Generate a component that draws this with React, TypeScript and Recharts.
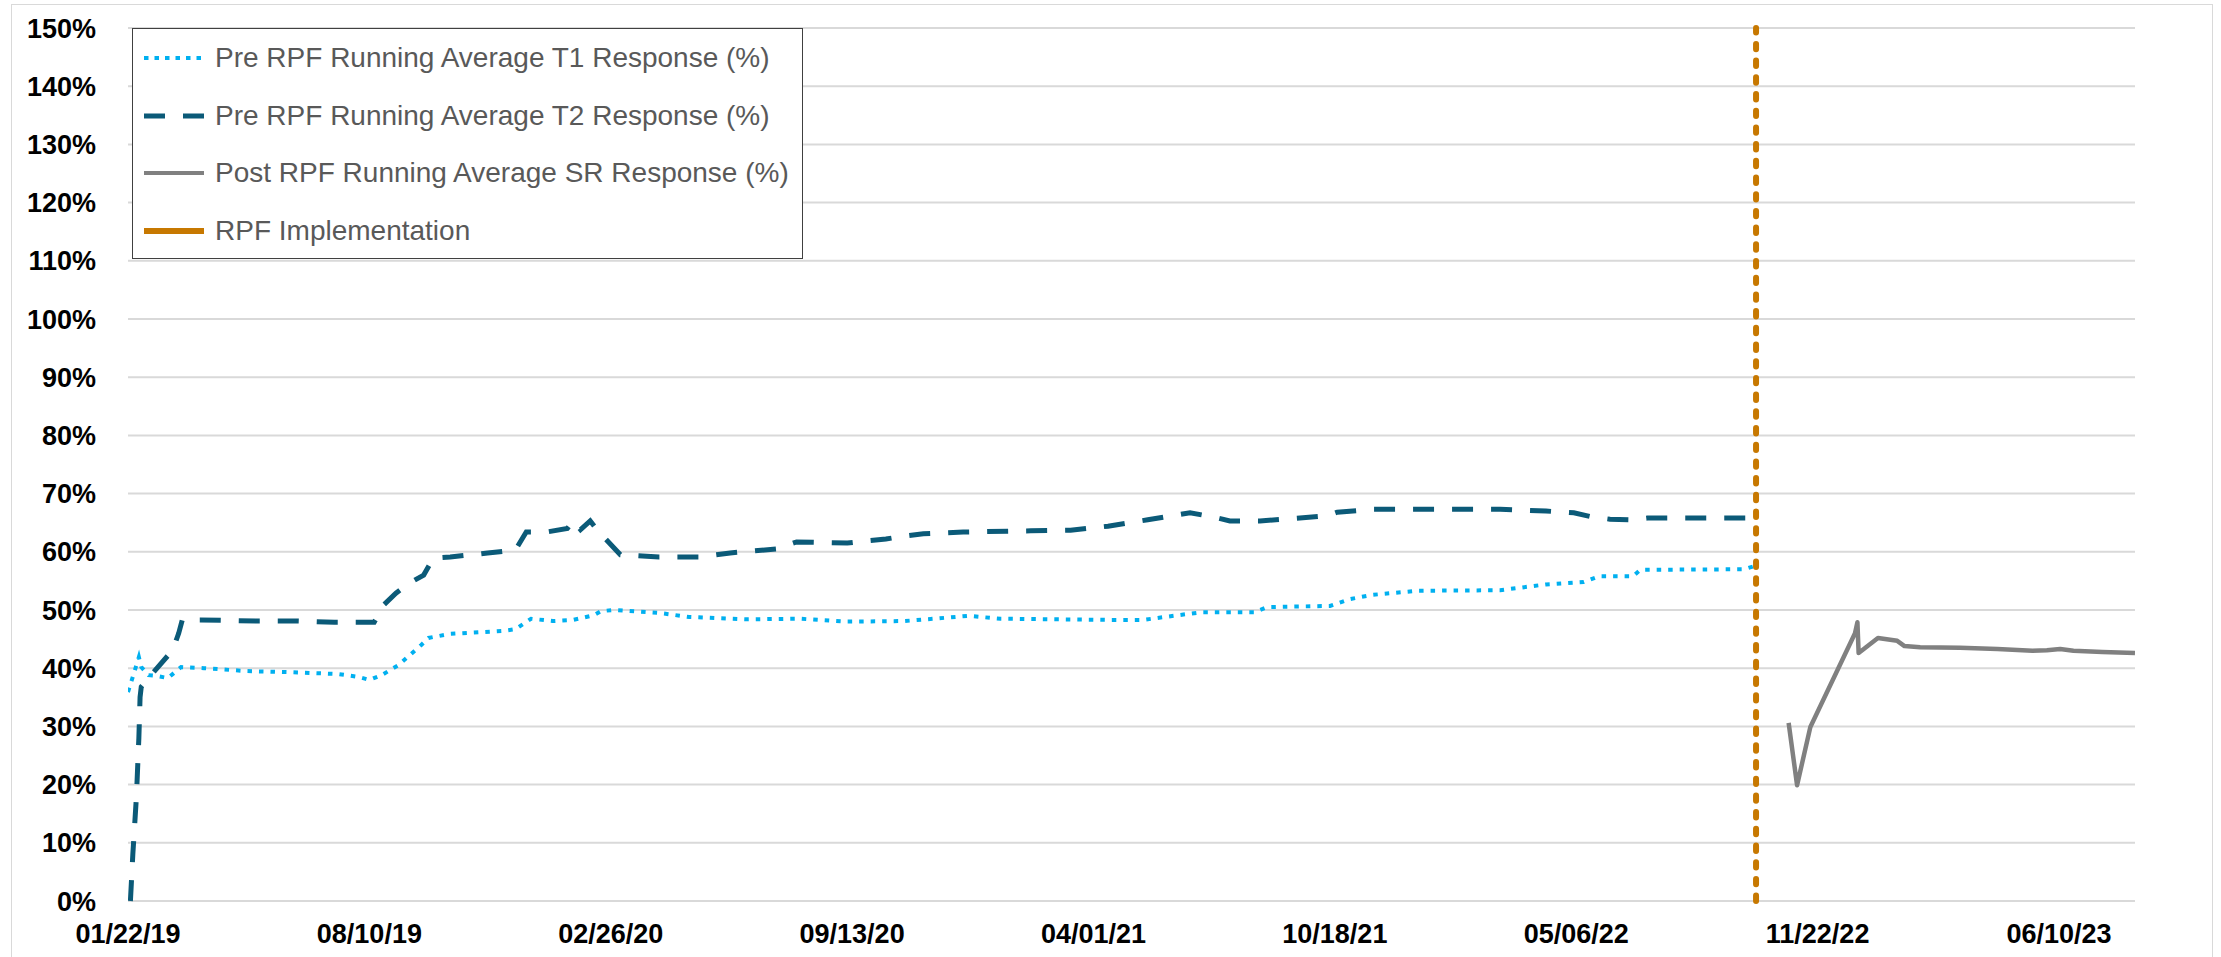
import React from 'react';
import { LineChart, Line, XAxis, YAxis, CartesianGrid, Legend } from 'recharts';

// ---- data (dates as MM/DD/YY, values in %) ----
const t1Dates = [
  '01/22/19', '01/27/19', '01/31/19', '02/02/19', '02/08/19', '02/14/19', '02/24/19', '03/07/19',
  '03/26/19', '05/01/19', '06/08/19', '07/15/19', '08/01/19', '08/10/19', '08/20/19', '09/03/19',
  '09/22/19', '09/28/19', '10/16/19', '11/29/19', '12/09/19', '12/22/19', '01/09/20', '01/26/20',
  '02/12/20', '02/18/20', '02/28/20', '04/06/20', '05/01/20', '06/17/20', '08/01/20', '09/07/20',
  '10/26/20', '11/20/20', '12/18/20', '01/14/21', '04/13/21', '05/12/21', '06/10/21', '06/29/21',
  '08/12/21', '08/23/21', '10/14/21', '10/31/21', '11/18/21', '12/25/21', '03/04/22', '04/11/22',
  '05/12/22', '05/25/22', '06/22/22', '06/28/22', '09/22/22', '09/30/22',
];
const t1Values = [
  35.9, 39.2, 41.9, 40.2, 38.8, 38.7, 38.3, 40.2,
  40.0, 39.5, 39.3, 39.0, 38.5, 38.0, 38.8, 40.5,
  44.0, 45.2, 45.9, 46.4, 46.7, 48.5, 48.1, 48.3,
  49.1, 49.8, 50.0, 49.5, 48.8, 48.4, 48.5, 48.0,
  48.1, 48.5, 49.0, 48.5, 48.3, 48.3, 49.1, 49.6,
  49.6, 50.5, 50.7, 51.9, 52.6, 53.3, 53.4, 54.4,
  54.8, 55.8, 55.8, 56.9, 57.0, 57.5,
];

const t2Dates = [
  '01/24/19', '01/26/19', '01/29/19', '01/31/19', '02/01/19', '02/02/19', '02/10/19', '02/28/19',
  '03/05/19', '03/08/19', '03/23/19', '05/10/19', '06/12/19', '07/12/19', '08/14/19', '08/22/19',
  '09/01/19', '09/12/19', '09/24/19', '10/02/19', '10/16/19', '11/16/19', '12/09/19', '12/18/19',
  '01/04/20', '01/21/20', '01/26/20', '02/01/20', '02/09/20', '02/15/20', '03/05/20', '04/06/20',
  '05/10/20', '06/04/20', '07/12/20', '07/29/20', '09/09/20', '09/26/20', '10/11/20', '10/26/20',
  '11/11/20', '12/14/20', '02/08/21', '03/13/21', '04/13/21', '05/16/21', '06/20/21', '07/09/21',
  '07/23/21', '08/17/21', '09/19/21', '10/12/21', '10/20/21', '11/19/21', '03/04/22', '04/11/22',
  '05/04/22', '05/19/22', '06/03/22', '06/22/22', '07/04/22', '09/30/22',
];
const t2Values = [
  0, 8, 18, 28, 35, 36.8, 38.8, 43.1,
  46.0, 48.3, 48.3, 48.1, 48.1, 47.9, 47.9, 50.9,
  52.9, 54.6, 56.0, 58.9, 59.1, 59.8, 60.3, 63.4,
  63.4, 64.0, 65.4, 63.8, 65.3, 63.7, 59.5, 59.1,
  59.1, 59.8, 60.5, 61.7, 61.5, 61.9, 62.2, 62.7,
  63.1, 63.4, 63.6, 63.7, 64.4, 65.5, 66.7, 66.0,
  65.3, 65.3, 65.8, 66.2, 66.8, 67.3, 67.3, 67.0,
  66.7, 66.0, 65.6, 65.5, 65.8, 65.8,
];

const srDates = [
  '10/29/22', '11/05/22', '11/16/22', '12/23/22', '12/25/22', '12/26/22', '01/11/23', '01/27/23',
  '02/02/23', '02/15/23', '03/20/23', '04/20/23', '05/19/23', '05/31/23', '06/11/23', '06/22/23',
  '07/16/23', '08/12/23',
];
const srValues = [
  30.6, 19.9, 29.9, 46.0, 47.9, 42.6, 45.2, 44.7,
  43.8, 43.6, 43.5, 43.3, 43.0, 43.1, 43.3, 43.0,
  42.8, 42.6,
];

const rpfDate = '10/02/22';
const rpfValues = [0, 150];

const xTickLabels = ['01/22/19', '08/10/19', '02/26/20', '09/13/20', '04/01/21', '10/18/21', '05/06/22', '11/22/22', '06/10/23'];
const xDomainLabels = ['01/22/19', '08/12/23'];
const yTickValues = [0, 10, 20, 30, 40, 50, 60, 70, 80, 90, 100, 110, 120, 130, 140, 150];

const seriesNames = [
  'Pre RPF Running Average T1 Response (%)',
  'Pre RPF Running Average T2 Response (%)',
  'Post RPF Running Average SR Response (%)',
  'RPF Implementation',
];

// ---- helpers ----
const toDay = (s: string) => {
  const [m, d, y] = s.split('/').map(Number);
  return Date.UTC(2000 + y, m - 1, d) / 86400000;
};
const fmtDay = (n: number) => {
  const dt = new Date(Math.round(n) * 86400000);
  const mm = String(dt.getUTCMonth() + 1).padStart(2, '0');
  const dd = String(dt.getUTCDate()).padStart(2, '0');
  const yy = String(dt.getUTCFullYear() % 100).padStart(2, '0');
  return `${mm}/${dd}/${yy}`;
};

const t1Data = t1Dates.map((d, i) => ({ d: toDay(d), v: t1Values[i] }));
const t2Data = t2Dates.map((d, i) => ({ d: toDay(d), v: t2Values[i] }));
const srData = srDates.map((d, i) => ({ d: toDay(d), v: srValues[i] }));
const rpfData = rpfValues.map((v) => ({ d: toDay(rpfDate), v }));
const xTicks = xTickLabels.map(toDay);
const xDomain = xDomainLabels.map(toDay);

const FONT = '"Liberation Sans", Arial, sans-serif';
const C_T1 = '#00B0F0';
const C_T2 = '#0B5A78';
const C_SR = '#808080';
const C_RPF = '#C77800';

const samples = [
  { stroke: C_T1, width: 4, dash: '4.5 6' },
  { stroke: C_T2, width: 5, dash: '21 18' },
  { stroke: C_SR, width: 4, dash: undefined },
  { stroke: C_RPF, width: 6, dash: undefined },
];

const LegendBox = () => (
  <div
    style={{
      width: 671,
      height: 231,
      boxSizing: 'border-box',
      border: '1.5px solid #404040',
      background: '#fff',
      position: 'relative',
      fontFamily: FONT,
    }}
  >
    {seriesNames.map((name, i) => (
      <div
        key={name}
        style={{
          position: 'absolute',
          left: 0,
          top: i * 57.5,
          height: 58,
          display: 'flex',
          alignItems: 'center',
        }}
      >
        <svg width={82} height={12} style={{ display: 'block' }}>
          <line
            x1={11}
            x2={71}
            y1={6}
            y2={6}
            stroke={samples[i].stroke}
            strokeWidth={samples[i].width}
            strokeDasharray={samples[i].dash}
          />
        </svg>
        <span style={{ fontSize: 28, color: '#595959', whiteSpace: 'nowrap', lineHeight: '30px' }}>{name}</span>
      </div>
    ))}
  </div>
);

export default function App() {
  return (
    <div
      style={{
        position: 'absolute',
        left: 0,
        top: 0,
        width: 2221,
        height: 957,
        overflow: 'hidden',
        background: '#fff',
      }}
    >
      <div
        style={{
          position: 'absolute',
          left: 11,
          top: 4,
          width: 2202,
          height: 960,
          boxSizing: 'border-box',
          border: '1.5px solid #d9d9d9',
          pointerEvents: 'none',
        }}
      />
      <LineChart width={2221} height={957} margin={{ top: 28, right: 86, bottom: 0, left: 0 }}>
        <CartesianGrid vertical={false} stroke="#d9d9d9" strokeWidth={2} />
        <XAxis
          dataKey="d"
          type="number"
          domain={xDomain}
          ticks={xTicks}
          interval={0}
          tickFormatter={fmtDay}
          allowDataOverflow
          axisLine={false}
          tickLine={false}
          tickSize={0}
          tickMargin={23}
          height={56}
          tick={{ fill: '#000', fontSize: 27, fontWeight: 700, fontFamily: FONT }}
        />
        <YAxis
          type="number"
          domain={[0, 150]}
          ticks={yTickValues}
          interval={0}
          tickFormatter={(v: number) => `${v}%`}
          axisLine={false}
          tickLine={false}
          tickSize={0}
          tickMargin={32}
          width={128}
          tick={{ fill: '#000', fontSize: 27, fontWeight: 700, fontFamily: FONT }}
        />
        <Legend
          layout="vertical"
          verticalAlign="middle"
          align="center"
          wrapperStyle={{ left: 132, top: 28, width: 671, height: 231 }}
          content={() => <LegendBox />}
        />
        <Line
          data={t1Data}
          dataKey="v"
          name={seriesNames[0]}
          type="linear"
          stroke={C_T1}
          strokeWidth={4}
          strokeDasharray="4.5 7"
          dot={false}
          activeDot={false}
          isAnimationActive={false}
        />
        <Line
          data={t2Data}
          dataKey="v"
          name={seriesNames[1]}
          type="linear"
          stroke={C_T2}
          strokeWidth={5}
          strokeDasharray="21 18"
          dot={false}
          activeDot={false}
          isAnimationActive={false}
        />
        <Line
          data={srData}
          dataKey="v"
          name={seriesNames[2]}
          type="linear"
          stroke={C_SR}
          strokeWidth={4.5}
          strokeLinejoin="round"
          dot={false}
          activeDot={false}
          isAnimationActive={false}
        />
        <Line
          data={rpfData}
          dataKey="v"
          name={seriesNames[3]}
          type="linear"
          stroke={C_RPF}
          strokeWidth={6}
          strokeDasharray="5.4 11.3"
          strokeLinecap="round"
          dot={false}
          activeDot={false}
          isAnimationActive={false}
        />
      </LineChart>
    </div>
  );
}
